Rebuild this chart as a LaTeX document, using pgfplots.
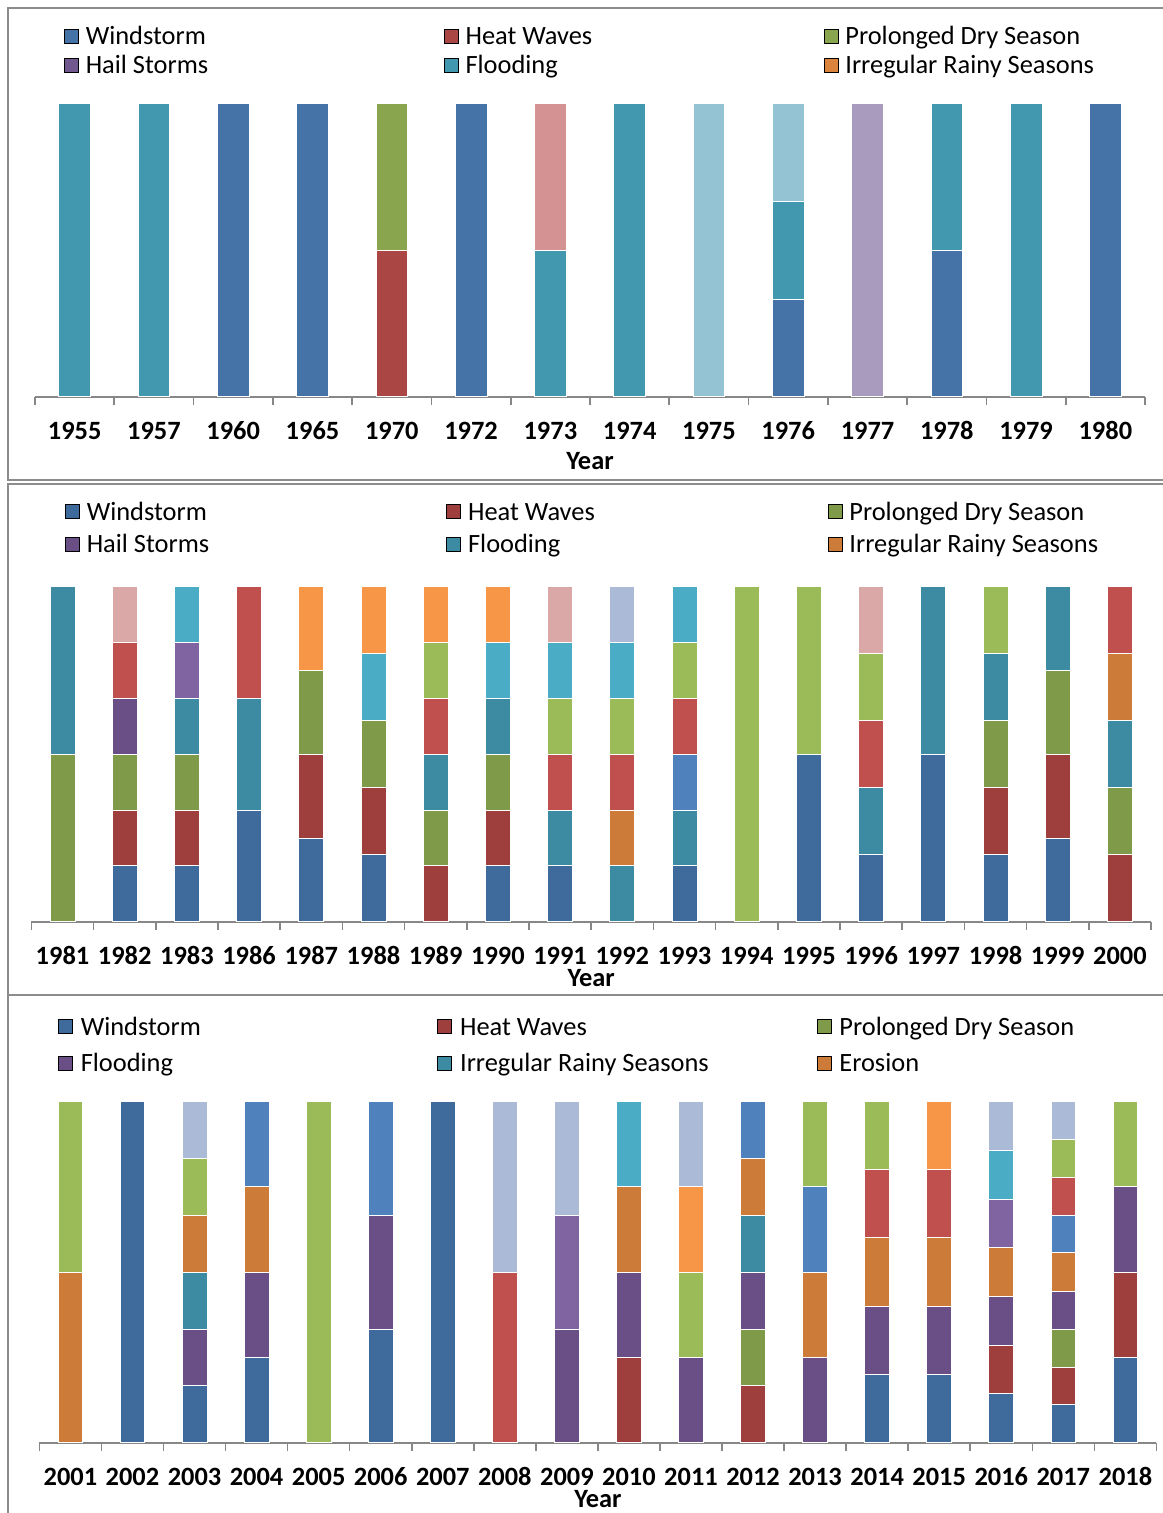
\documentclass[border=0pt]{standalone}
\usepackage{pgfplots}
\pgfplotsset{compat=1.18}
\usepackage{fontspec}
\setmainfont{Carlito}

% first panel (older Excel palette)
\definecolor{blueA}{HTML}{4572A7}
\definecolor{redA}{HTML}{AA4643}
\definecolor{greenA}{HTML}{89A54E}
\definecolor{purpA}{HTML}{71588F}
\definecolor{tealA}{HTML}{4198AF}
\definecolor{orangeA}{HTML}{DB843D}
\definecolor{pinkA}{HTML}{D49392}
\definecolor{ltblueA}{HTML}{94C3D3}
\definecolor{lavA}{HTML}{A99BBE}
% second and third panels
\definecolor{blueD}{HTML}{3F6A9C}
\definecolor{redD}{HTML}{9E3F3D}
\definecolor{greenD}{HTML}{7F9A48}
\definecolor{purpD}{HTML}{6A4F87}
\definecolor{tealD}{HTML}{3C8BA3}
\definecolor{orangeD}{HTML}{CC7B38}
\definecolor{redL}{HTML}{C0504D}
\definecolor{greenL}{HTML}{9BBB59}
\definecolor{purpL}{HTML}{8064A2}
\definecolor{tealL}{HTML}{4BACC6}
\definecolor{orangeL}{HTML}{F79646}
\definecolor{blueL}{HTML}{4F81BD}
\definecolor{pinkL}{HTML}{DAA8A7}
\definecolor{lavL}{HTML}{AABAD7}
\definecolor{axisgray}{HTML}{878787}
\definecolor{framegray}{HTML}{8C8C8C}

\newcommand\lfont{\fontsize{13.2}{15}\selectfont}

\pgfplotsset{
  panel/.style={
    scale only axis, anchor=south west,
    xmin=-0.5, ymin=0, ymax=100,
    axis x line*=bottom, axis y line=none,
    x axis line style={draw=axisgray, line width=1pt, -},
    major tick length=0pt, minor tick length=4pt, tick align=outside,
    minor x tick style={draw=axisgray, line width=0.8pt},
    xticklabel style={font=\lfont\bfseries, anchor=center, yshift=-17.2pt,
      text height=8.6pt, text depth=0pt},
    xlabel={Year},
    xlabel style={font=\lfont\bfseries, at={(axis description cs:0.5,0)}, anchor=center,
      text height=8.6pt, text depth=2.4pt},
    legend columns=3,
    legend cell align=left,
    legend image code/.code={\fill[##1] (0pt,-3.5pt) rectangle (7pt,3.5pt);},
    legend style={draw=none, fill=none, anchor=north west, inner sep=0pt, outer sep=0pt,
      font=\lfont, nodes={inner sep=0pt, text height=11pt, text depth=2.5pt},
      /tikz/every odd column/.append style={column sep=3.5pt}},
  },
  seg/.style={ybar, bar width=0.4, bar shift=0pt, draw=white, line width=0.4pt, forget plot},
}

\begin{document}
\begin{tikzpicture}
\path[use as bounding box] (0,0) rectangle (581pt,-756.5pt);

% panel frames
\draw[framegray, line width=1pt] (582pt,-4pt) -- (4pt,-4pt) -- (4pt,-240pt) -- (582pt,-240pt);
\draw[framegray, line width=1pt] (582pt,-242pt) -- (4pt,-242pt) -- (4pt,-497.5pt) -- (582pt,-497.5pt);
\draw[framegray, line width=1pt] (582pt,-497.5pt) -- (4pt,-497.5pt) -- (4pt,-760pt);

% ---------------- 1955 - 1980 ----------------
\begin{axis}[panel,
    at={(17.5pt,-198.35pt)}, width=555pt, height=146.7pt,
    xmax=13.5,
    xtick={0,...,13}, minor xtick={-0.5,0.5,...,13.5},
    xticklabels={1955,1957,1960,1965,1970,1972,1973,1974,1975,1976,1977,1978,1979,1980},
    xlabel style={yshift=-33.5pt},
    legend style={at={(0.0261,1.2754)}, row sep=1.25pt},
  ]
  \addlegendimage{fill=blueA}   \addlegendentry{\makebox[179pt][l]{Windstorm}}
  \addlegendimage{fill=redA}    \addlegendentry{\makebox[179pt][l]{Heat Waves}}
  \addlegendimage{fill=greenA}  \addlegendentry{\makebox[179pt][l]{Prolonged Dry Season}}
  \addlegendimage{fill=purpA}   \addlegendentry{\makebox[179pt][l]{Hail Storms}}
  \addlegendimage{fill=tealA}   \addlegendentry{\makebox[179pt][l]{Flooding}}
  \addlegendimage{fill=orangeA} \addlegendentry{\makebox[179pt][l]{Irregular Rainy Seasons}}

  % cumulative share (%), top segment first
  \addplot[seg,fill=tealA] coordinates {(0,100)};
  \addplot[seg,fill=tealA] coordinates {(1,100)};
  \addplot[seg,fill=blueA] coordinates {(2,100)};
  \addplot[seg,fill=blueA] coordinates {(3,100)};
  \addplot[seg,fill=greenA] coordinates {(4,100)};
  \addplot[seg,fill=redA] coordinates {(4,50)};
  \addplot[seg,fill=blueA] coordinates {(5,100)};
  \addplot[seg,fill=pinkA] coordinates {(6,100)};
  \addplot[seg,fill=tealA] coordinates {(6,50)};
  \addplot[seg,fill=tealA] coordinates {(7,100)};
  \addplot[seg,fill=ltblueA] coordinates {(8,100)};
  \addplot[seg,fill=ltblueA] coordinates {(9,100)};
  \addplot[seg,fill=tealA] coordinates {(9,66.7)};
  \addplot[seg,fill=blueA] coordinates {(9,33.3)};
  \addplot[seg,fill=lavA] coordinates {(10,100)};
  \addplot[seg,fill=tealA] coordinates {(11,100)};
  \addplot[seg,fill=blueA] coordinates {(11,50)};
  \addplot[seg,fill=tealA] coordinates {(12,100)};
  \addplot[seg,fill=blueA] coordinates {(13,100)};
\end{axis}

% ---------------- 1981 - 2000 ----------------
\begin{axis}[panel,
    at={(15.7pt,-460.85pt)}, width=559.8pt, height=167.5pt,
    xmax=17.5,
    xtick={0,...,17}, minor xtick={-0.5,0.5,...,17.5},
    xticklabels={1981,1982,1983,1986,1987,1988,1989,1990,1991,1992,1993,1994,1995,1996,1997,1998,1999,2000},
    xlabel style={yshift=-29.2pt},
    legend style={at={(0.030,1.2642)}, row sep=2.65pt},
  ]
  \addlegendimage{fill=blueD}   \addlegendentry{\makebox[179.75pt][l]{Windstorm}}
  \addlegendimage{fill=redD}    \addlegendentry{\makebox[179.75pt][l]{Heat Waves}}
  \addlegendimage{fill=greenD}  \addlegendentry{\makebox[179.75pt][l]{Prolonged Dry Season}}
  \addlegendimage{fill=purpD}   \addlegendentry{\makebox[179.75pt][l]{Hail Storms}}
  \addlegendimage{fill=tealD}   \addlegendentry{\makebox[179.75pt][l]{Flooding}}
  \addlegendimage{fill=orangeD} \addlegendentry{\makebox[179.75pt][l]{Irregular Rainy Seasons}}

  % 1981
  \addplot[seg,fill=tealD] coordinates {(0,100)};
  \addplot[seg,fill=greenD] coordinates {(0,50)};
  % 1982
  \addplot[seg,fill=pinkL] coordinates {(1,100)};
  \addplot[seg,fill=redL] coordinates {(1,83.3)};
  \addplot[seg,fill=purpD] coordinates {(1,66.7)};
  \addplot[seg,fill=greenD] coordinates {(1,50)};
  \addplot[seg,fill=redD] coordinates {(1,33.3)};
  \addplot[seg,fill=blueD] coordinates {(1,16.7)};
  % 1983
  \addplot[seg,fill=tealL] coordinates {(2,100)};
  \addplot[seg,fill=purpL] coordinates {(2,83.3)};
  \addplot[seg,fill=tealD] coordinates {(2,66.7)};
  \addplot[seg,fill=greenD] coordinates {(2,50)};
  \addplot[seg,fill=redD] coordinates {(2,33.3)};
  \addplot[seg,fill=blueD] coordinates {(2,16.7)};
  % 1986
  \addplot[seg,fill=redL] coordinates {(3,100)};
  \addplot[seg,fill=tealD] coordinates {(3,66.7)};
  \addplot[seg,fill=blueD] coordinates {(3,33.3)};
  % 1987
  \addplot[seg,fill=orangeL] coordinates {(4,100)};
  \addplot[seg,fill=greenD] coordinates {(4,75)};
  \addplot[seg,fill=redD] coordinates {(4,50)};
  \addplot[seg,fill=blueD] coordinates {(4,25)};
  % 1988
  \addplot[seg,fill=orangeL] coordinates {(5,100)};
  \addplot[seg,fill=tealL] coordinates {(5,80)};
  \addplot[seg,fill=greenD] coordinates {(5,60)};
  \addplot[seg,fill=redD] coordinates {(5,40)};
  \addplot[seg,fill=blueD] coordinates {(5,20)};
  % 1989
  \addplot[seg,fill=orangeL] coordinates {(6,100)};
  \addplot[seg,fill=greenL] coordinates {(6,83.3)};
  \addplot[seg,fill=redL] coordinates {(6,66.7)};
  \addplot[seg,fill=tealD] coordinates {(6,50)};
  \addplot[seg,fill=greenD] coordinates {(6,33.3)};
  \addplot[seg,fill=redD] coordinates {(6,16.7)};
  % 1990
  \addplot[seg,fill=orangeL] coordinates {(7,100)};
  \addplot[seg,fill=tealL] coordinates {(7,83.3)};
  \addplot[seg,fill=tealD] coordinates {(7,66.7)};
  \addplot[seg,fill=greenD] coordinates {(7,50)};
  \addplot[seg,fill=redD] coordinates {(7,33.3)};
  \addplot[seg,fill=blueD] coordinates {(7,16.7)};
  % 1991
  \addplot[seg,fill=pinkL] coordinates {(8,100)};
  \addplot[seg,fill=tealL] coordinates {(8,83.3)};
  \addplot[seg,fill=greenL] coordinates {(8,66.7)};
  \addplot[seg,fill=redL] coordinates {(8,50)};
  \addplot[seg,fill=tealD] coordinates {(8,33.3)};
  \addplot[seg,fill=blueD] coordinates {(8,16.7)};
  % 1992
  \addplot[seg,fill=lavL] coordinates {(9,100)};
  \addplot[seg,fill=tealL] coordinates {(9,83.3)};
  \addplot[seg,fill=greenL] coordinates {(9,66.7)};
  \addplot[seg,fill=redL] coordinates {(9,50)};
  \addplot[seg,fill=orangeD] coordinates {(9,33.3)};
  \addplot[seg,fill=tealD] coordinates {(9,16.7)};
  % 1993
  \addplot[seg,fill=tealL] coordinates {(10,100)};
  \addplot[seg,fill=greenL] coordinates {(10,83.3)};
  \addplot[seg,fill=redL] coordinates {(10,66.7)};
  \addplot[seg,fill=blueL] coordinates {(10,50)};
  \addplot[seg,fill=tealD] coordinates {(10,33.3)};
  \addplot[seg,fill=blueD] coordinates {(10,16.7)};
  % 1994
  \addplot[seg,fill=greenL] coordinates {(11,100)};
  % 1995
  \addplot[seg,fill=greenL] coordinates {(12,100)};
  \addplot[seg,fill=blueD] coordinates {(12,50)};
  % 1996
  \addplot[seg,fill=pinkL] coordinates {(13,100)};
  \addplot[seg,fill=greenL] coordinates {(13,80)};
  \addplot[seg,fill=redL] coordinates {(13,60)};
  \addplot[seg,fill=tealD] coordinates {(13,40)};
  \addplot[seg,fill=blueD] coordinates {(13,20)};
  % 1997
  \addplot[seg,fill=tealD] coordinates {(14,100)};
  \addplot[seg,fill=blueD] coordinates {(14,50)};
  % 1998
  \addplot[seg,fill=greenL] coordinates {(15,100)};
  \addplot[seg,fill=tealD] coordinates {(15,80)};
  \addplot[seg,fill=greenD] coordinates {(15,60)};
  \addplot[seg,fill=redD] coordinates {(15,40)};
  \addplot[seg,fill=blueD] coordinates {(15,20)};
  % 1999
  \addplot[seg,fill=tealD] coordinates {(16,100)};
  \addplot[seg,fill=greenD] coordinates {(16,75)};
  \addplot[seg,fill=redD] coordinates {(16,50)};
  \addplot[seg,fill=blueD] coordinates {(16,25)};
  % 2000
  \addplot[seg,fill=redL] coordinates {(17,100)};
  \addplot[seg,fill=orangeD] coordinates {(17,80)};
  \addplot[seg,fill=tealD] coordinates {(17,60)};
  \addplot[seg,fill=greenD] coordinates {(17,40)};
  \addplot[seg,fill=redD] coordinates {(17,20)};
\end{axis}

% ---------------- 2001 - 2018 ----------------
\begin{axis}[panel,
    at={(19.7pt,-721.35pt)}, width=558.5pt, height=170.7pt,
    xmax=17.5,
    xtick={0,...,17}, minor xtick={-0.5,0.5,...,17.5},
    xticklabels={2001,2002,2003,2004,2005,2006,2007,2008,2009,2010,2011,2012,2013,2014,2015,2016,2017,2018},
    xlabel style={yshift=-29.2pt},
    legend style={at={(0.01665,1.258)}, row sep=4.8pt,
      /tikz/every odd column/.append style={column sep=4pt}},
  ]
  \addlegendimage{fill=blueD}   \addlegendentry{\makebox[178.25pt][l]{Windstorm}}
  \addlegendimage{fill=redD}    \addlegendentry{\makebox[178.25pt][l]{Heat Waves}}
  \addlegendimage{fill=greenD}  \addlegendentry{\makebox[178.25pt][l]{Prolonged Dry Season}}
  \addlegendimage{fill=purpD}   \addlegendentry{\makebox[178.25pt][l]{Flooding}}
  \addlegendimage{fill=tealD}   \addlegendentry{\makebox[178.25pt][l]{Irregular Rainy Seasons}}
  \addlegendimage{fill=orangeD} \addlegendentry{\makebox[178.25pt][l]{Erosion}}

  % 2001
  \addplot[seg,fill=greenL] coordinates {(0,100)};
  \addplot[seg,fill=orangeD] coordinates {(0,50)};
  % 2002
  \addplot[seg,fill=blueD] coordinates {(1,100)};
  % 2003
  \addplot[seg,fill=lavL] coordinates {(2,100)};
  \addplot[seg,fill=greenL] coordinates {(2,83.3)};
  \addplot[seg,fill=orangeD] coordinates {(2,66.7)};
  \addplot[seg,fill=tealD] coordinates {(2,50)};
  \addplot[seg,fill=purpD] coordinates {(2,33.3)};
  \addplot[seg,fill=blueD] coordinates {(2,16.7)};
  % 2004
  \addplot[seg,fill=blueL] coordinates {(3,100)};
  \addplot[seg,fill=orangeD] coordinates {(3,75)};
  \addplot[seg,fill=purpD] coordinates {(3,50)};
  \addplot[seg,fill=blueD] coordinates {(3,25)};
  % 2005
  \addplot[seg,fill=greenL] coordinates {(4,100)};
  % 2006
  \addplot[seg,fill=blueL] coordinates {(5,100)};
  \addplot[seg,fill=purpD] coordinates {(5,66.7)};
  \addplot[seg,fill=blueD] coordinates {(5,33.3)};
  % 2007
  \addplot[seg,fill=blueD] coordinates {(6,100)};
  % 2008
  \addplot[seg,fill=lavL] coordinates {(7,100)};
  \addplot[seg,fill=redL] coordinates {(7,50)};
  % 2009
  \addplot[seg,fill=lavL] coordinates {(8,100)};
  \addplot[seg,fill=purpL] coordinates {(8,66.7)};
  \addplot[seg,fill=purpD] coordinates {(8,33.3)};
  % 2010
  \addplot[seg,fill=tealL] coordinates {(9,100)};
  \addplot[seg,fill=orangeD] coordinates {(9,75)};
  \addplot[seg,fill=purpD] coordinates {(9,50)};
  \addplot[seg,fill=redD] coordinates {(9,25)};
  % 2011
  \addplot[seg,fill=lavL] coordinates {(10,100)};
  \addplot[seg,fill=orangeL] coordinates {(10,75)};
  \addplot[seg,fill=greenL] coordinates {(10,50)};
  \addplot[seg,fill=purpD] coordinates {(10,25)};
  % 2012
  \addplot[seg,fill=blueL] coordinates {(11,100)};
  \addplot[seg,fill=orangeD] coordinates {(11,83.3)};
  \addplot[seg,fill=tealD] coordinates {(11,66.7)};
  \addplot[seg,fill=purpD] coordinates {(11,50)};
  \addplot[seg,fill=greenD] coordinates {(11,33.3)};
  \addplot[seg,fill=redD] coordinates {(11,16.7)};
  % 2013
  \addplot[seg,fill=greenL] coordinates {(12,100)};
  \addplot[seg,fill=blueL] coordinates {(12,75)};
  \addplot[seg,fill=orangeD] coordinates {(12,50)};
  \addplot[seg,fill=purpD] coordinates {(12,25)};
  % 2014
  \addplot[seg,fill=greenL] coordinates {(13,100)};
  \addplot[seg,fill=redL] coordinates {(13,80)};
  \addplot[seg,fill=orangeD] coordinates {(13,60)};
  \addplot[seg,fill=purpD] coordinates {(13,40)};
  \addplot[seg,fill=blueD] coordinates {(13,20)};
  % 2015
  \addplot[seg,fill=orangeL] coordinates {(14,100)};
  \addplot[seg,fill=redL] coordinates {(14,80)};
  \addplot[seg,fill=orangeD] coordinates {(14,60)};
  \addplot[seg,fill=purpD] coordinates {(14,40)};
  \addplot[seg,fill=blueD] coordinates {(14,20)};
  % 2016
  \addplot[seg,fill=lavL] coordinates {(15,100)};
  \addplot[seg,fill=tealL] coordinates {(15,85.7)};
  \addplot[seg,fill=purpL] coordinates {(15,71.4)};
  \addplot[seg,fill=orangeD] coordinates {(15,57.1)};
  \addplot[seg,fill=purpD] coordinates {(15,42.9)};
  \addplot[seg,fill=redD] coordinates {(15,28.6)};
  \addplot[seg,fill=blueD] coordinates {(15,14.3)};
  % 2017
  \addplot[seg,fill=lavL] coordinates {(16,100)};
  \addplot[seg,fill=greenL] coordinates {(16,88.9)};
  \addplot[seg,fill=redL] coordinates {(16,77.8)};
  \addplot[seg,fill=blueL] coordinates {(16,66.7)};
  \addplot[seg,fill=orangeD] coordinates {(16,55.6)};
  \addplot[seg,fill=purpD] coordinates {(16,44.4)};
  \addplot[seg,fill=greenD] coordinates {(16,33.3)};
  \addplot[seg,fill=redD] coordinates {(16,22.2)};
  \addplot[seg,fill=blueD] coordinates {(16,11.1)};
  % 2018
  \addplot[seg,fill=greenL] coordinates {(17,100)};
  \addplot[seg,fill=purpD] coordinates {(17,75)};
  \addplot[seg,fill=redD] coordinates {(17,50)};
  \addplot[seg,fill=blueD] coordinates {(17,25)};
\end{axis}
\end{tikzpicture}
\end{document}
